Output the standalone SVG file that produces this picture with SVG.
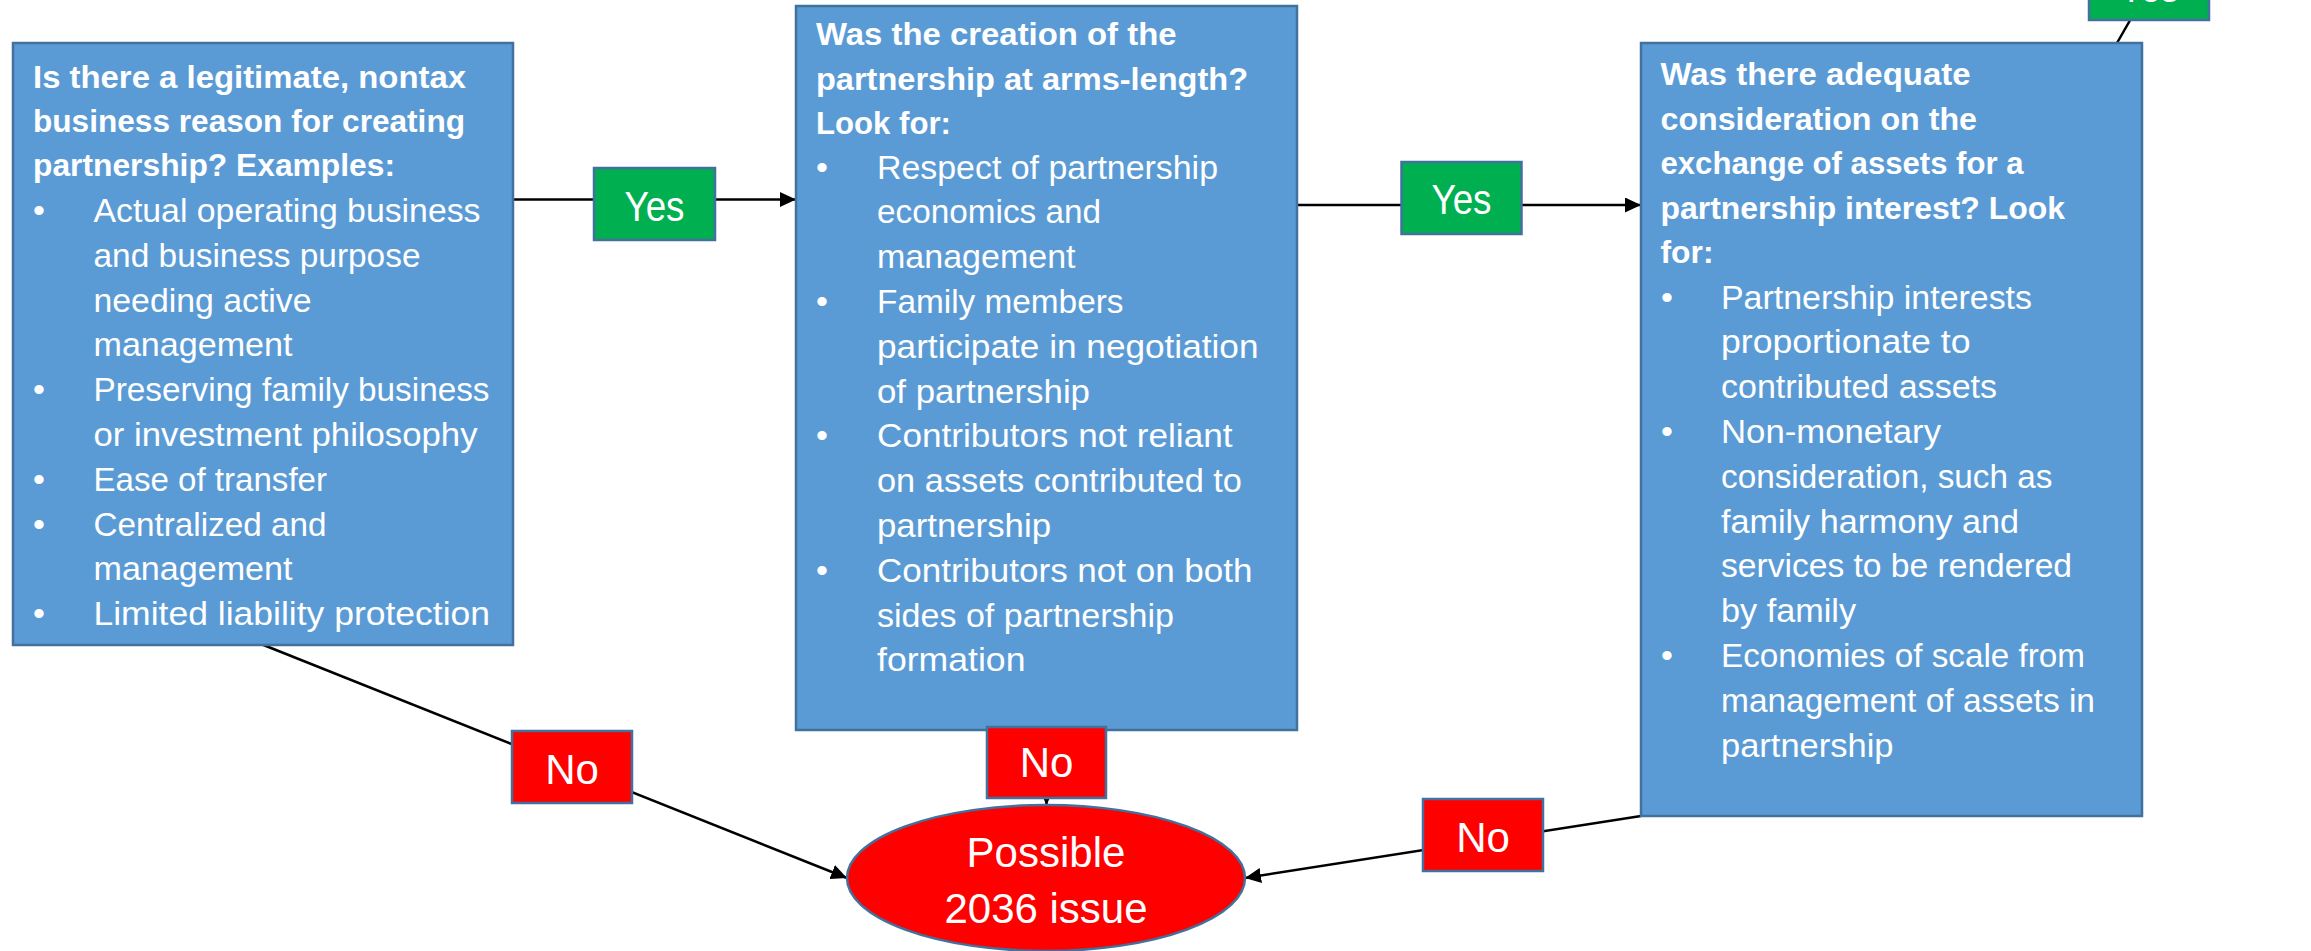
<svg xmlns="http://www.w3.org/2000/svg" width="2311" height="951" viewBox="0 0 2311 951">
  <defs>
    <marker id="arrow" markerUnits="userSpaceOnUse" markerWidth="16" markerHeight="15" refX="16" refY="7.5" orient="auto">
      <path d="M0,0 L16,7.5 L0,15 Z" fill="#000"/>
    </marker>
    <style>
      .box { fill: #5B9BD5; stroke: #41719C; stroke-width: 2.5; }
      .yes { fill: #00B050; stroke: #41719C; stroke-width: 2.5; }
      .no { fill: #FF0000; stroke: #41719C; stroke-width: 2.5; }
      .edge { fill: none; stroke: #000; stroke-width: 2.5; }
      text { font-family: "Liberation Sans", Arial, sans-serif; fill: #FFFFFF; }
      .hd { font-weight: bold; font-size: 32px; }
      .bd { font-size: 34px; }
      .lbl { font-size: 42px; text-anchor: middle; }
    </style>
  </defs>

  <rect width="2311" height="951" fill="#FFFFFF"/>

  <!-- connectors (drawn first so the label boxes sit on top of them) -->
  <g id="connectors">
    <line class="edge" x1="513" y1="199.5" x2="796" y2="199.5" marker-end="url(#arrow)"/>
    <line class="edge" x1="1297" y1="205" x2="1641" y2="205" marker-end="url(#arrow)"/>
    <line class="edge" x1="261" y1="644" x2="847" y2="878" marker-end="url(#arrow)"/>
    <line class="edge" x1="1046.5" y1="730" x2="1046.5" y2="805" marker-end="url(#arrow)"/>
    <line class="edge" x1="1641" y1="816" x2="1245" y2="878" marker-end="url(#arrow)"/>
    <line class="edge" x1="2117" y1="43" x2="2160" y2="-32"/>
  </g>

  <!-- question 1: business purpose -->
  <g id="q-business-reason">
    <rect class="box" x="13" y="43" width="500" height="602"/>
    <text class="hd" x="33" y="88" textLength="433" lengthAdjust="spacingAndGlyphs">Is there a legitimate, nontax</text>
    <text class="hd" x="33" y="132" textLength="432" lengthAdjust="spacingAndGlyphs">business reason for creating</text>
    <text class="hd" x="33" y="176" textLength="362" lengthAdjust="spacingAndGlyphs">partnership? Examples:</text>
    <g class="bd">
      <text x="33" y="222">•</text>
      <text x="93.5" y="222" textLength="387" lengthAdjust="spacingAndGlyphs">Actual operating business</text>
      <text x="93.5" y="266.8" textLength="327" lengthAdjust="spacingAndGlyphs">and business purpose</text>
      <text x="93.5" y="311.6" textLength="218" lengthAdjust="spacingAndGlyphs">needing active</text>
      <text x="93.5" y="356.4" textLength="199" lengthAdjust="spacingAndGlyphs">management</text>
      <text x="33" y="401.2">•</text>
      <text x="93.5" y="401.2" textLength="396" lengthAdjust="spacingAndGlyphs">Preserving family business</text>
      <text x="93.5" y="446" textLength="384" lengthAdjust="spacingAndGlyphs">or investment philosophy</text>
      <text x="33" y="490.8">•</text>
      <text x="93.5" y="490.8" textLength="233.5" lengthAdjust="spacingAndGlyphs">Ease of transfer</text>
      <text x="33" y="535.6">•</text>
      <text x="93.5" y="535.6" textLength="233" lengthAdjust="spacingAndGlyphs">Centralized and</text>
      <text x="93.5" y="580.4" textLength="199" lengthAdjust="spacingAndGlyphs">management</text>
      <text x="33" y="625.2">•</text>
      <text x="93.5" y="625.2" textLength="396.5" lengthAdjust="spacingAndGlyphs">Limited liability protection</text>
    </g>
  </g>

  <!-- question 2: arms-length creation -->
  <g id="q-arms-length">
    <rect class="box" x="796" y="6" width="501" height="724"/>
    <text class="hd" x="816" y="45" textLength="360.5" lengthAdjust="spacingAndGlyphs">Was the creation of the</text>
    <text class="hd" x="816" y="89.5" textLength="432" lengthAdjust="spacingAndGlyphs">partnership at arms-length?</text>
    <text class="hd" x="816" y="134" textLength="135" lengthAdjust="spacingAndGlyphs">Look for:</text>
    <g class="bd">
      <text x="816" y="178.5">•</text>
      <text x="877" y="178.5" textLength="341" lengthAdjust="spacingAndGlyphs">Respect of partnership</text>
      <text x="877" y="223.3" textLength="224" lengthAdjust="spacingAndGlyphs">economics and</text>
      <text x="877" y="268.1" textLength="198.5" lengthAdjust="spacingAndGlyphs">management</text>
      <text x="816" y="312.9">•</text>
      <text x="877" y="312.9" textLength="246.5" lengthAdjust="spacingAndGlyphs">Family members</text>
      <text x="877" y="357.7" textLength="381.5" lengthAdjust="spacingAndGlyphs">participate in negotiation</text>
      <text x="877" y="402.5" textLength="213" lengthAdjust="spacingAndGlyphs">of partnership</text>
      <text x="816" y="447.3">•</text>
      <text x="877" y="447.3" textLength="355.5" lengthAdjust="spacingAndGlyphs">Contributors not reliant</text>
      <text x="877" y="492.1" textLength="365" lengthAdjust="spacingAndGlyphs">on assets contributed to</text>
      <text x="877" y="536.9" textLength="174" lengthAdjust="spacingAndGlyphs">partnership</text>
      <text x="816" y="581.7">•</text>
      <text x="877" y="581.7" textLength="375.5" lengthAdjust="spacingAndGlyphs">Contributors not on both</text>
      <text x="877" y="626.5" textLength="297" lengthAdjust="spacingAndGlyphs">sides of partnership</text>
      <text x="877" y="671.3" textLength="148.5" lengthAdjust="spacingAndGlyphs">formation</text>
    </g>
  </g>

  <!-- question 3: adequate consideration -->
  <g id="q-consideration">
    <rect class="box" x="1641" y="43" width="501" height="773"/>
    <text class="hd" x="1660.5" y="85" textLength="310" lengthAdjust="spacingAndGlyphs">Was there adequate</text>
    <text class="hd" x="1660.5" y="129.5" textLength="316.5" lengthAdjust="spacingAndGlyphs">consideration on the</text>
    <text class="hd" x="1660.5" y="174" textLength="363" lengthAdjust="spacingAndGlyphs">exchange of assets for a</text>
    <text class="hd" x="1660.5" y="218.5" textLength="404.5" lengthAdjust="spacingAndGlyphs">partnership interest? Look</text>
    <text class="hd" x="1660.5" y="263" textLength="53" lengthAdjust="spacingAndGlyphs">for:</text>
    <g class="bd">
      <text x="1661" y="308.5">•</text>
      <text x="1721" y="308.5" textLength="311" lengthAdjust="spacingAndGlyphs">Partnership interests</text>
      <text x="1721" y="353.3" textLength="249.5" lengthAdjust="spacingAndGlyphs">proportionate to</text>
      <text x="1721" y="398.1" textLength="276" lengthAdjust="spacingAndGlyphs">contributed assets</text>
      <text x="1661" y="442.9">•</text>
      <text x="1721" y="442.9" textLength="220" lengthAdjust="spacingAndGlyphs">Non-monetary</text>
      <text x="1721" y="487.7" textLength="331.5" lengthAdjust="spacingAndGlyphs">consideration, such as</text>
      <text x="1721" y="532.5" textLength="298" lengthAdjust="spacingAndGlyphs">family harmony and</text>
      <text x="1721" y="577.3" textLength="351" lengthAdjust="spacingAndGlyphs">services to be rendered</text>
      <text x="1721" y="622.1" textLength="135" lengthAdjust="spacingAndGlyphs">by family</text>
      <text x="1661" y="666.9">•</text>
      <text x="1721" y="666.9" textLength="364" lengthAdjust="spacingAndGlyphs">Economies of scale from</text>
      <text x="1721" y="711.7" textLength="374" lengthAdjust="spacingAndGlyphs">management of assets in</text>
      <text x="1721" y="756.5" textLength="172.5" lengthAdjust="spacingAndGlyphs">partnership</text>
    </g>
  </g>

  <!-- outcome -->
  <g id="possible-issue">
    <ellipse cx="1046" cy="878" rx="199" ry="73" fill="#FF0000" stroke="#41719C" stroke-width="2.5"/>
    <text class="lbl" x="1046" y="867">Possible</text>
    <text class="lbl" x="1046" y="923">2036 issue</text>
  </g>

  <!-- branch labels -->
  <g id="yes-1">
    <rect class="yes" x="594" y="168" width="121" height="72"/>
    <text class="lbl" x="654.5" y="221" textLength="60" lengthAdjust="spacingAndGlyphs">Yes</text>
  </g>
  <g id="yes-2">
    <rect class="yes" x="1401.5" y="162" width="120" height="72"/>
    <text class="lbl" x="1461.5" y="213.5" textLength="60" lengthAdjust="spacingAndGlyphs">Yes</text>
  </g>
  <g id="yes-3">
    <rect class="yes" x="2089" y="-52" width="120" height="72"/>
    <text class="lbl" x="2149" y="2" textLength="60" lengthAdjust="spacingAndGlyphs">Yes</text>
  </g>
  <g id="no-1">
    <rect class="no" x="512" y="731" width="120" height="72"/>
    <text class="lbl" x="572" y="784">No</text>
  </g>
  <g id="no-2">
    <rect class="no" x="987" y="727" width="119" height="71"/>
    <text class="lbl" x="1046.5" y="777">No</text>
  </g>
  <g id="no-3">
    <rect class="no" x="1423" y="799" width="120" height="72"/>
    <text class="lbl" x="1483" y="852">No</text>
  </g>
</svg>
